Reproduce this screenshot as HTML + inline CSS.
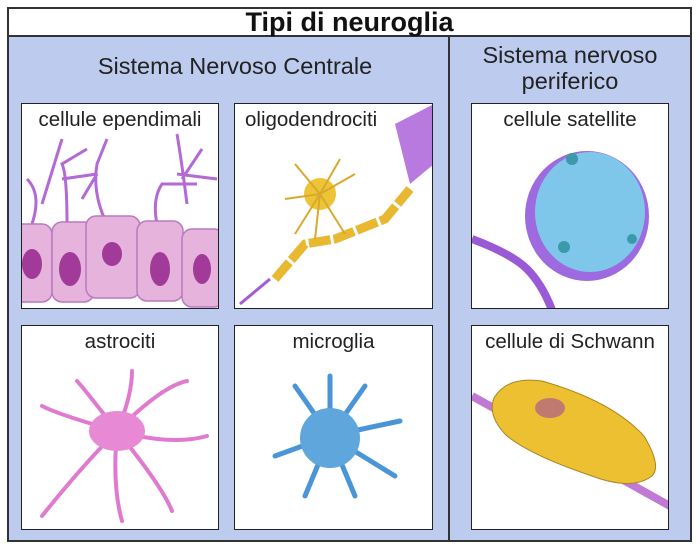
<!DOCTYPE html>
<html><head><meta charset="utf-8"><style>
*{margin:0;padding:0;box-sizing:border-box}
body{width:700px;height:552px;background:#fff;position:relative;overflow:hidden;font-family:"Liberation Sans",sans-serif}
.outer{position:absolute;left:7px;top:7px;width:685px;height:535px;border:2px solid #333;background:#bccbee}
.title{position:absolute;left:7px;top:7px;width:685px;height:30px;border:2px solid #333;background:#fff;text-align:center;font-weight:bold;font-size:27px;line-height:26px;color:#111}
.div{position:absolute;left:448px;top:36px;width:2px;height:505px;background:#333}
.h{position:absolute;font-size:23.5px;color:#222;text-align:center;line-height:26px}
.p{position:absolute;background:#fff;border:1.5px solid #222;overflow:hidden}
.p span{position:absolute;left:0;right:0;top:4px;text-align:center;font-size:20.5px;color:#222;z-index:2}
.p svg{position:absolute;left:0;top:0}
</style></head><body>
<div class="outer"></div>
<div class="title">Tipi di neuroglia</div>
<div class="div"></div>
<div class="h" style="left:40px;top:53px;width:390px">Sistema Nervoso Centrale</div>
<div class="h" style="left:455px;top:42px;width:230px">Sistema nervoso<br>periferico</div>

<div class="p" style="left:21px;top:103px;width:198px;height:206px"><span>cellule ependimali</span>
<svg width="198" height="206"><g stroke="#b36ad6" stroke-width="3" fill="none">
<path d="M10 120 Q20 90 5 75 M20 100 L40 35 M45 120 Q45 70 40 60 L65 45 M40 75 L75 70 M85 120 Q70 90 75 60 L85 35 M75 70 L60 95 M135 120 Q130 95 140 80 L175 80 M165 100 Q160 60 155 30 M155 70 L195 75 M160 75 L180 45"/></g>
<g fill="#e6b3dc" stroke="#b87ac0" stroke-width="1.5"><rect x="-10" y="120" width="40" height="78" rx="10"/><rect x="30" y="118" width="42" height="80" rx="10"/><rect x="64" y="112" width="54" height="82" rx="10"/><rect x="115" y="117" width="46" height="80" rx="10"/><rect x="160" y="125" width="42" height="78" rx="10"/></g>
<g fill="#a23a9a"><ellipse cx="10" cy="160" rx="10" ry="15"/><ellipse cx="48" cy="165" rx="11" ry="17"/><ellipse cx="90" cy="150" rx="10" ry="12"/><ellipse cx="138" cy="165" rx="10" ry="17"/><ellipse cx="180" cy="165" rx="9" ry="15"/></g></svg></div>

<div class="p" style="left:234px;top:103px;width:199px;height:206px"><span style="text-align:left;left:10px">oligodendrociti</span>
<svg width="199" height="206"><path d="M160 20 L199 0 L199 60 L175 80 Z" fill="#b97ae0"/>
<path d="M40 175 L70 140 L100 135 L150 115 L175 85" stroke="#e8b830" stroke-width="9" fill="none" stroke-dasharray="22 3"/>
<path d="M35 175 L5 200" stroke="#a35bd6" stroke-width="3"/>
<circle cx="85" cy="90" r="16" fill="#eec437"/>
<g stroke="#d9a92c" stroke-width="2"><path d="M85 90 L60 60 M85 90 L50 95 M85 90 L105 55 M85 90 L120 70 M85 90 L80 135 M85 90 L110 130 M85 90 L60 130"/></g></svg></div>

<div class="p" style="left:21px;top:325px;width:198px;height:205px"><span>astrociti</span>
<svg width="198" height="205"><g stroke="#e07ad0" stroke-width="4" fill="none" stroke-linecap="round">
<path d="M95 105 Q60 60 55 55 M95 105 Q40 90 20 80 M95 105 Q60 140 20 190 M95 105 Q90 160 100 195 M95 105 Q140 160 150 185 M95 105 Q150 120 185 110 M95 105 Q140 60 165 55 M95 105 Q110 70 110 45"/></g>
<ellipse cx="95" cy="105" rx="28" ry="20" fill="#e889d6"/></svg></div>

<div class="p" style="left:234px;top:325px;width:199px;height:205px"><span>microglia</span>
<svg width="199" height="205"><g stroke="#4a95d8" stroke-width="5" fill="none" stroke-linecap="round">
<path d="M95 110 L60 60 M95 110 L95 50 M95 110 L130 60 M95 110 L40 130 M95 110 L165 95 M95 110 L160 150 M95 110 L70 170 M95 110 L120 170"/></g>
<circle cx="95" cy="112" r="30" fill="#5ea6dc"/></svg></div>

<div class="p" style="left:471px;top:103px;width:198px;height:206px"><span>cellule satellite</span>
<svg width="198" height="206"><path d="M0 135 Q40 150 55 165 Q70 180 80 206" stroke="#9a5ad6" stroke-width="8" fill="none"/>
<ellipse cx="115" cy="112" rx="62" ry="65" fill="#9d6ae0"/>
<ellipse cx="118" cy="108" rx="55" ry="60" fill="#7cd0ec" opacity=".9"/>
<circle cx="100" cy="55" r="6" fill="#3a9aaa"/><circle cx="92" cy="143" r="6" fill="#3a9aaa"/><circle cx="160" cy="135" r="5" fill="#3a9aaa"/></svg></div>

<div class="p" style="left:471px;top:325px;width:198px;height:205px"><span>cellule di Schwann</span>
<svg width="198" height="205"><path d="M0 70 L198 180" stroke="#c07ad6" stroke-width="8"/>
<path d="M22 72 Q35 50 70 55 Q140 75 172 110 Q190 140 180 150 Q160 165 120 150 Q60 130 35 110 Q15 90 22 72Z" fill="#ecc030" stroke="#a88520"/>
<ellipse cx="78" cy="82" rx="15" ry="10" fill="#c07a70"/></svg></div>
</body></html>
